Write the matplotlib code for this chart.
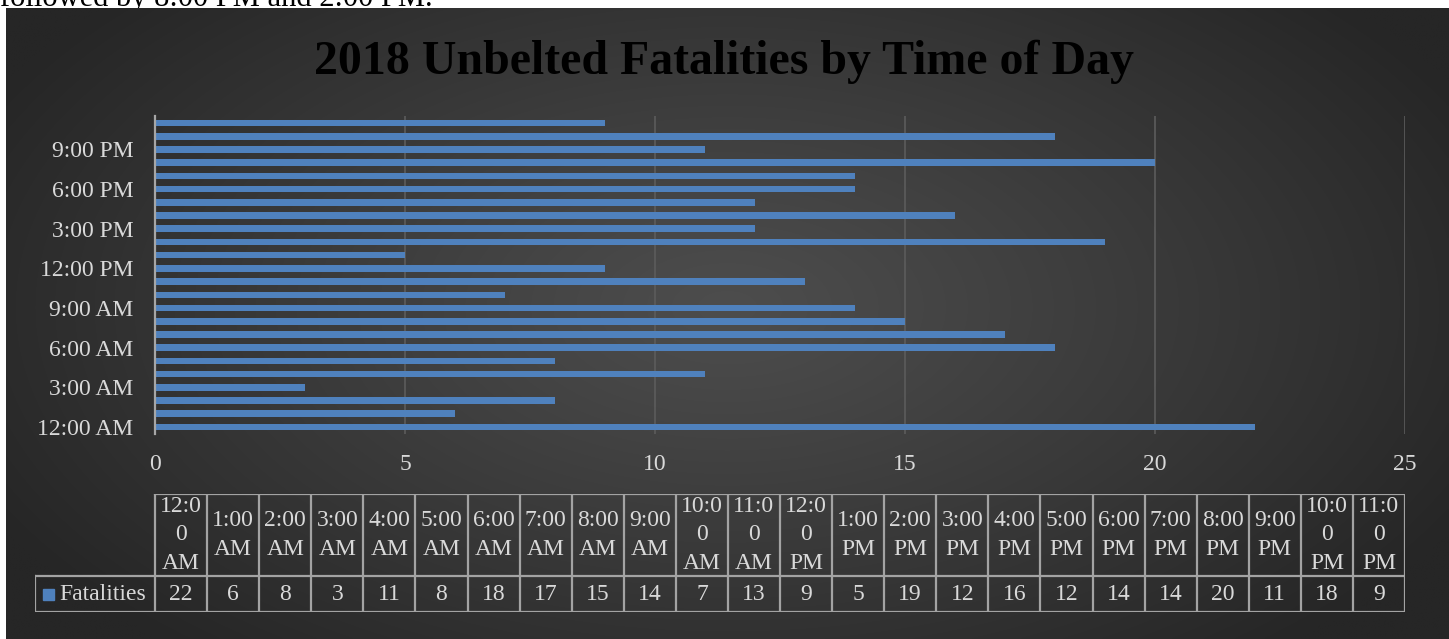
import numpy as np
import matplotlib.pyplot as plt
from matplotlib.patches import Rectangle

plt.rcParams['font.family'] = ['Liberation Serif', 'DejaVu Serif']

# data
hours = ['12:00 AM', '1:00 AM', '2:00 AM', '3:00 AM', '4:00 AM', '5:00 AM',
         '6:00 AM', '7:00 AM', '8:00 AM', '9:00 AM', '10:00 AM', '11:00 AM',
         '12:00 PM', '1:00 PM', '2:00 PM', '3:00 PM', '4:00 PM', '5:00 PM',
         '6:00 PM', '7:00 PM', '8:00 PM', '9:00 PM', '10:00 PM', '11:00 PM']
fatalities = [22, 6, 8, 3, 11, 8, 18, 17, 15, 14, 7, 13,
              9, 5, 19, 12, 16, 12, 14, 14, 20, 11, 18, 9]
series_name = 'Fatalities'
title = '2018 Unbelted Fatalities by Time of Day'
x_ticks = [0, 5, 10, 15, 20, 25]

W, H = 1449, 639
BAR = '#4f81bd'
TXT = '#d9d9d9'
LINE = '#a3a3a3'


def wrap_header(h):
    # excel wraps the long labels inside narrow table cells
    t, ampm = h.split(' ')
    if len(t) > 4:
        return t[:4] + '\n' + t[4:] + '\n' + ampm
    return t + '\n' + ampm


fig = plt.figure(figsize=(W / 100, H / 100), dpi=100)
fig.patch.set_facecolor('white')

# cut off text from the document above the chart
fig.text(0.0, 1 - 6 / H, 'followed by 8:00 PM and 2:00 PM.', fontsize=22,
         color='black', ha='left', va='baseline', zorder=-5)

# radial gradient background
ax_bg = fig.add_axes([6 / W, 0, 1 - 6 / W, 1 - 7.5 / H], zorder=-1)
gx, gy = np.meshgrid(np.linspace(-1, 1, 600), np.linspace(-1, 1, 300))
r = np.sqrt((gx / 1.0) ** 2 + ((gy + 0.05) / 1.25) ** 2)
r = np.clip(r / 1.15, 0, 1)
shade = 0x4d - (0x4d - 0x26) * r ** 1.1
img = np.dstack([shade, shade, shade]) / 255.0
ax_bg.imshow(img, aspect='auto', extent=[0, 1, 0, 1], interpolation='bilinear')
ax_bg.set_axis_off()

# bar chart
ax = fig.add_axes([155 / W, 1 - 433.6 / H, 1250 / W, (433.6 - 116.4) / H])
ax.set_facecolor('none')
ypos = np.arange(len(hours))
ax.barh(ypos, fatalities, height=0.5, color=BAR, zorder=3)
ax.set_xlim(0, 25)
ax.set_ylim(-0.5, len(hours) - 0.5)
ax.set_xticks(x_ticks)
ax.set_yticks(ypos[::3])
ax.set_yticklabels(hours[::3])
ax.tick_params(length=0, labelsize=17, colors=TXT)
ax.tick_params(axis='x', pad=15)
ax.tick_params(axis='y', pad=15.5)
ax.xaxis.grid(True, color='#5c5c5c', lw=1.2)
ax.set_axisbelow(True)
for s in ['top', 'right', 'bottom']:
    ax.spines[s].set_visible(False)
ax.spines['left'].set_color('#a6a6a6')
ax.spines['left'].set_linewidth(1.6)
ax.spines['left'].set_zorder(4)

fig.text(0.5, 1 - 74 / H, title, fontsize=34.5, weight='bold', color='black',
         ha='center', va='baseline')

# data table below the chart
n = len(hours)
lab_w = (155 - 35) / (1250 / n)
axt = fig.add_axes([35 / W, 1 - 612 / H, (1405 - 35) / W, (612 - 494) / H])
axt.set_xlim(-lab_w, n)
axt.set_ylim(0, 118)
axt.set_axis_off()
lk = dict(color=LINE, lw=1.6, solid_capstyle='projecting')
axt.plot([0, n], [118, 118], **lk)
axt.plot([-lab_w, n], [36, 36], **lk)
axt.plot([-lab_w, n], [0, 0], **lk)
axt.plot([-lab_w, -lab_w], [0, 36], **lk)
for i in range(n + 1):
    axt.plot([i, i], [0, 118], **lk)
for i in range(n):
    axt.text(i + 0.5, 36 + 82 / 2, wrap_header(hours[i]), ha='center',
             va='center', fontsize=17, color=TXT, linespacing=1.45)
    axt.text(i + 0.5, 18, str(fatalities[i]), ha='center', va='center',
             fontsize=17, color=TXT)
px = 1250 / n
axt.add_patch(Rectangle(((43 - 155) / px, 12.5), 11 / px, 11, color=BAR))
axt.text((59 - 155) / px, 18, series_name, ha='left', va='center',
         fontsize=17, color=TXT)

fig.savefig('out.png', dpi=100, facecolor='white')
